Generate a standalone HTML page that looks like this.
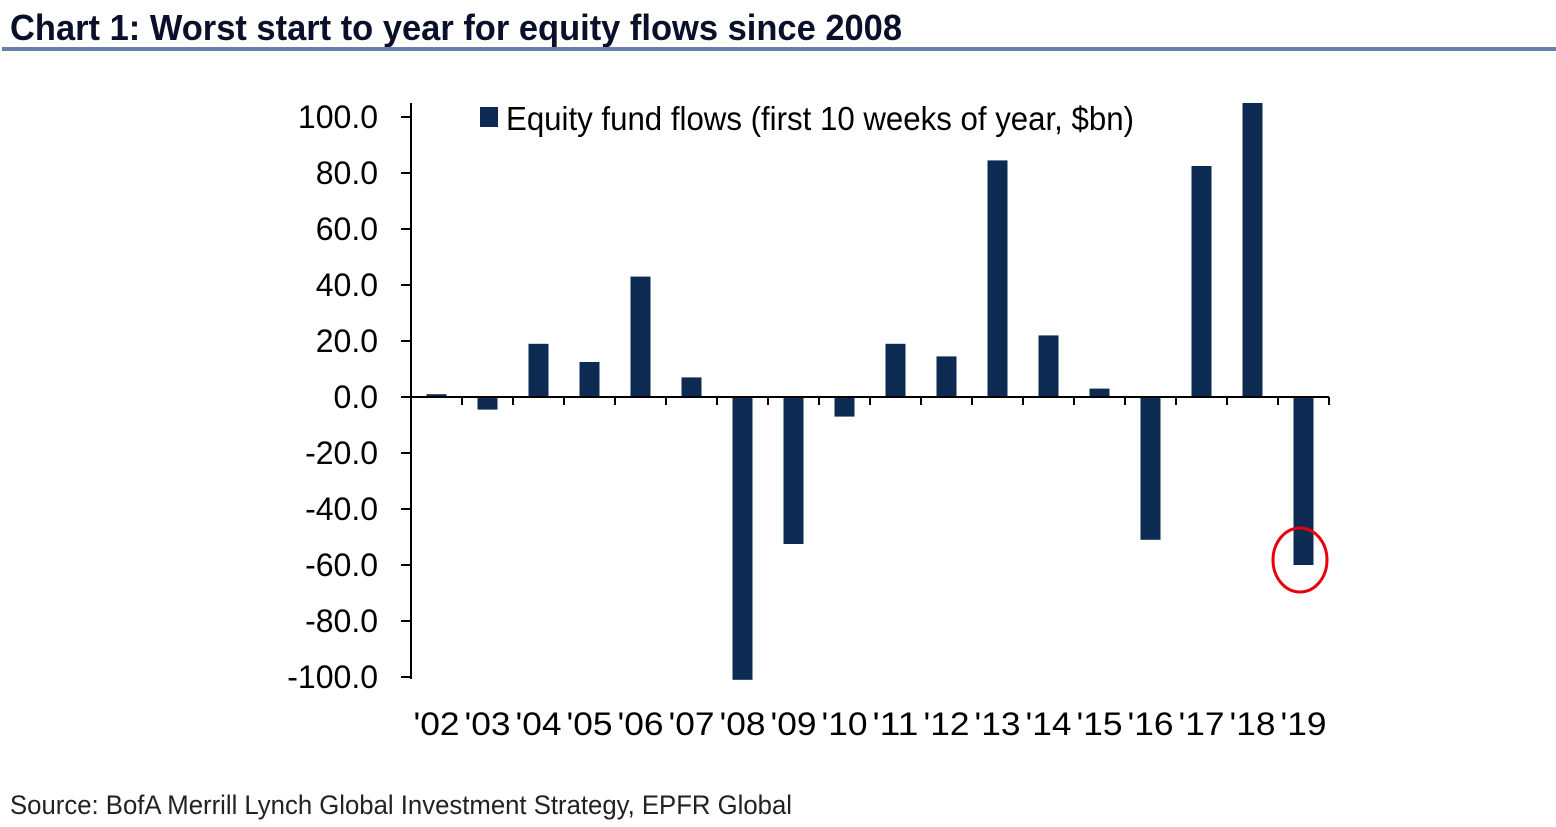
<!DOCTYPE html>
<html><head><meta charset="utf-8"><style>
body{margin:0;background:#fff;width:1556px;height:822px;overflow:hidden;font-family:"Liberation Sans",sans-serif}
</style></head><body>
<svg width="1556" height="822">
<text x="10" y="40" font-size="36" font-weight="bold" fill="#0a0f2a" textLength="892" lengthAdjust="spacingAndGlyphs">Chart 1: Worst start to year for equity flows since 2008</text>
<rect x="2" y="47" width="1554" height="4" fill="#6682aa"/>
<g id="plot"></g>
<rect x="480" y="107" width="18" height="20" fill="#0d2b52"/>
<text x="506" y="130" font-size="33" fill="#000" textLength="628" lengthAdjust="spacingAndGlyphs">Equity fund flows (first 10 weeks of year, $bn)</text>
<ellipse cx="1300" cy="560" rx="27" ry="32" fill="none" stroke="#e8000b" stroke-width="3"/>
<text x="10" y="814" font-size="27" fill="#222" textLength="782" lengthAdjust="spacingAndGlyphs">Source:   BofA Merrill Lynch Global Investment Strategy, EPFR Global</text>
</svg>
<script>
const categories=["'02","'03","'04","'05","'06","'07","'08","'09","'10","'11","'12","'13","'14","'15","'16","'17","'18","'19"];
const values=[1,-4.5,19,12.5,43,7,-101,-52.5,-7,19,14.5,84.5,22,3,-51,82.5,105,-60];
const yTicks=[100,80,60,40,20,0,-20,-40,-60,-80,-100];
const NS="http://www.w3.org/2000/svg";
const g=document.getElementById('plot');
const x0=411,bw=51;
function y(v){return 397-v*2.8;}
function xc(i){return x0+bw*(i+0.5);}
function mk(t,a){const e=document.createElementNS(NS,t);for(const k in a)e.setAttribute(k,a[k]);g.appendChild(e);return e;}
yTicks.forEach(t=>{
 const l=mk('line',{x1:401,x2:411,y1:y(t),y2:y(t),stroke:'#000','stroke-width':2});
 
 
 const tx=mk('text',{x:378,y:y(t)+11,'font-size':32,'text-anchor':'end',fill:'#000'});
 tx.textContent=t.toFixed(1);
 
 
});
values.forEach((v,i)=>{
 const r=mk('rect',{x:xc(i)-10,y:Math.min(y(v),y(0)),width:20,height:Math.abs(y(v)-y(0)),fill:'#0d2b52'});
 
 
 const tk=mk('line',{x1:x0+bw*(i+1),x2:x0+bw*(i+1),y1:397,y2:405,stroke:'#000','stroke-width':2});
 
 
 const lb=mk('text',{x:xc(i),y:735,'font-size':32,'text-anchor':'middle',fill:'#000',textLength:46,lengthAdjust:'spacingAndGlyphs'});
 lb.textContent=categories[i];
 
 
});
const ya=mk('line',{x1:x0,x2:x0,y1:103,y2:679,stroke:'#000','stroke-width':2});


const xa=mk('line',{x1:x0,x2:x0+bw*categories.length,y1:397,y2:397,stroke:'#000','stroke-width':2});


</script>
</body></html>
